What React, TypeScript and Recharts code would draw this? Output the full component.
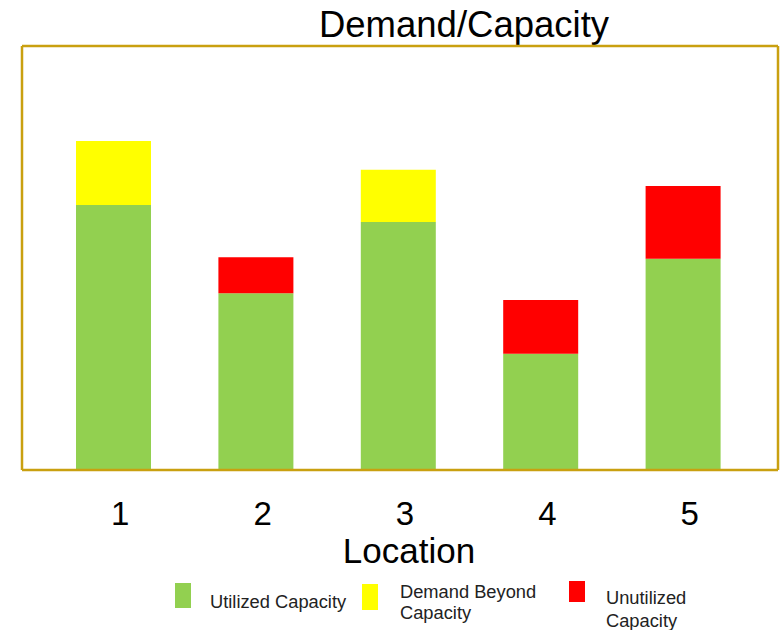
import React from 'react';
import { BarChart, Bar, XAxis, YAxis, Legend } from 'recharts';

const locations = ['1', '2', '3', '4', '5'];
const utilizedCapacity = [62.5, 41.7, 58.5, 27.4, 49.8];
const demandBeyondCapacity = [15.1, 0, 12.3, 0, 0];
const unutilizedCapacity = [0, 8.5, 0, 12.7, 17.2];
const seriesNames = ['Utilized Capacity', 'Demand Beyond Capacity', 'Unutilized Capacity'];
const legendLines = [['Utilized Capacity'], ['Demand Beyond', 'Capacity'], ['Unutilized', 'Capacity']];
const seriesColors = ['#92D050', '#FFFF00', '#FF0000'];

const data = locations.map((loc, i) => ({
  loc,
  utilized: utilizedCapacity[i],
  beyond: demandBeyondCapacity[i],
  unutilized: unutilizedCapacity[i],
}));

const FONT = '"Liberation Sans", Arial, sans-serif';
const BORDER = '#C9A010';

// legend layout (relative to legend box top at y=570)
const legendX = [175, 362, 569];
const legendSqY = [13, 14, 11];
const legendSqH = [25, 26, 21];
const legendTextX = [210, 400, 606];
const legendBaselines = [[38], [28, 49], [34, 57]];

const renderLegend = () => (
  <svg width={781} height={60} style={{ display: 'block' }}>
    {seriesNames.map((name, i) => (
      <g key={name}>
        <rect x={legendX[i]} y={legendSqY[i]} width={16} height={legendSqH[i]} fill={seriesColors[i]} />
        {legendLines[i].map((line, j) => (
          <text key={j} x={legendTextX[i]} y={legendBaselines[i][j]} fontSize={18.3} fontFamily={FONT} fill="#222">
            {line}
          </text>
        ))}
      </g>
    ))}
  </svg>
);

const renderTick = (props: any) => {
  const { x, y, payload } = props;
  return (
    <text x={x + 7} y={y + 47} textAnchor="middle" fontSize={33} fontFamily={FONT} fill="#000">
      {payload.value}
    </text>
  );
};

export default function App() {
  return (
    <div style={{ position: 'absolute', left: 0, top: 0, width: 781, height: 630, background: '#fff' }}>
      <BarChart
        width={781}
        height={630}
        data={data}
        margin={{ top: 45, right: 2, bottom: 100, left: 21 }}
        barSize={75}
      >
        <XAxis
          dataKey="loc"
          padding={{ left: 20, right: 24 }}
          axisLine={{ stroke: BORDER, strokeWidth: 2.5 }}
          tickLine={false}
          tick={renderTick}
          interval={0}
          height={60}
        />
        <XAxis
          xAxisId="top"
          orientation="top"
          dataKey="loc"
          height={1}
          tick={false}
          tickLine={false}
          axisLine={{ stroke: BORDER, strokeWidth: 2.5 }}
        />
        <YAxis
          domain={[0, 100]}
          width={1}
          tick={false}
          tickLine={false}
          axisLine={{ stroke: BORDER, strokeWidth: 2.5 }}
        />
        <YAxis
          yAxisId="right"
          orientation="right"
          domain={[0, 100]}
          width={1}
          tick={false}
          tickLine={false}
          axisLine={{ stroke: BORDER, strokeWidth: 2.5 }}
        />
        <Legend
          verticalAlign="middle"
          align="center"
          content={renderLegend}
          wrapperStyle={{ position: 'absolute', left: 0, top: 570, width: 781, height: 60 }}
        />
        <Bar dataKey="utilized" name={seriesNames[0]} stackId="a" fill={seriesColors[0]} isAnimationActive={false} />
        <Bar dataKey="beyond" name={seriesNames[1]} stackId="a" fill={seriesColors[1]} isAnimationActive={false} />
        <Bar dataKey="unutilized" name={seriesNames[2]} stackId="a" fill={seriesColors[2]} isAnimationActive={false} />
        <text x={464} y={37} textAnchor="middle" fontSize={36.5} fontFamily={FONT} fill="#000">
          Demand/Capacity
        </text>
        <text x={409} y={563} textAnchor="middle" fontSize={35} fontFamily={FONT} fill="#000">
          Location
        </text>
      </BarChart>
    </div>
  );
}
